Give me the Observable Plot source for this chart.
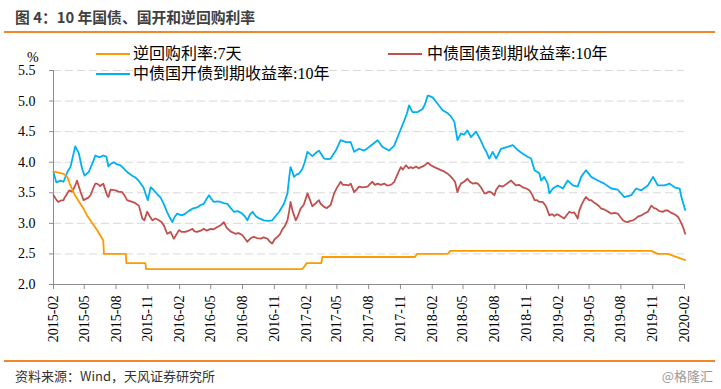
<!DOCTYPE html>
<html><head><meta charset="utf-8">
<script src="https://cdn.jsdelivr.net/npm/d3@7"></script>
<script src="https://cdn.jsdelivr.net/npm/@observablehq/plot@0.6"></script>
<style>
body{margin:0;background:#fff;}
#wrap{position:relative;width:721px;height:389px;overflow:hidden;background:#fff;}
#chart{position:absolute;left:0;top:36px;}
#chart svg text{font-family:"Liberation Serif","Times New Roman",serif;}
.title{position:absolute;left:15px;top:6px;font-family:"Noto Sans CJK SC",sans-serif;font-weight:bold;font-size:14.8px;line-height:22px;color:#404040;white-space:nowrap;}
.hline{position:absolute;left:4px;width:711px;height:2px;background:#F0882B;}
.leg{position:absolute;font-family:"Liberation Serif","Noto Sans CJK SC",serif;font-size:16px;line-height:22px;color:#000;white-space:nowrap;}
.lline{position:absolute;height:2px;width:34px;}
.unit{position:absolute;left:27px;top:49px;font-family:"Liberation Serif",serif;font-size:14px;line-height:18px;color:#000;}
.src{position:absolute;left:15px;top:367px;font-family:"Noto Sans CJK SC",sans-serif;font-size:13px;line-height:18px;color:#333;white-space:nowrap;}
.wm{position:absolute;right:8px;top:367px;font-family:"Noto Sans CJK SC",sans-serif;font-size:13px;line-height:18px;color:#9a9a9a;white-space:nowrap;}
</style>
</head><body>
<div id="wrap">
  <div class="title">图 4：10 年国债、国开和逆回购利率</div>
  <div class="hline" style="top:31px"></div>
  <div id="chart"></div>
  <div class="unit">%</div>
  <div class="lline" style="left:96px;top:53px;background:#FF9900"></div>
  <div class="leg" style="left:133px;top:43px">逆回购利率:7天</div>
  <div class="lline" style="left:388px;top:53px;background:#C0504D"></div>
  <div class="leg" style="left:427px;top:43px">中债国债到期收益率:10年</div>
  <div class="lline" style="left:96px;top:73px;background:#00B0F0"></div>
  <div class="leg" style="left:133px;top:63px">中债国开债到期收益率:10年</div>
  <div class="hline" style="top:360px"></div>
  <div class="src">资料来源：Wind，天风证券研究所</div>
  <div class="wm">@格隆汇</div>
</div>
<script>
// ---- data ----
const xTickLabels = ["2015-02","2015-05","2015-08","2015-11","2016-02","2016-05","2016-08","2016-11","2017-02","2017-05","2017-08","2017-11","2018-02","2018-05","2018-08","2018-11","2019-02","2019-05","2019-08","2019-11","2020-02"];
const yTicks = [2.0, 2.5, 3.0, 3.5, 4.0, 4.5, 5.0, 5.5];

const repoDates = ["2015-02-01","2015-03-02","2015-03-13","2015-03-22","2015-04-04","2015-04-29","2015-05-09","2015-06-07","2015-06-25","2015-06-27","2015-08-29","2015-08-31","2015-10-25","2015-10-27","2017-01-21","2017-02-03","2017-03-17","2017-03-20","2017-12-13","2017-12-19","2018-03-18","2018-03-25","2019-10-28","2019-11-16","2019-12-15","2020-02-03"];
const repoValues = [3.85,3.81,3.76,3.62,3.46,3.24,3.13,2.89,2.72,2.50,2.50,2.35,2.35,2.25,2.25,2.35,2.35,2.45,2.45,2.50,2.50,2.55,2.55,2.50,2.50,2.40];

const cgbDates = ["2015-02-01","2015-02-10","2015-02-15","2015-02-21","2015-03-02","2015-03-05","2015-03-13","2015-03-18","2015-03-27","2015-04-05","2015-04-10","2015-04-20","2015-04-29","2015-05-13","2015-05-19","2015-05-28","2015-06-02","2015-06-07","2015-06-16","2015-06-25","2015-07-06","2015-07-10","2015-07-16","2015-07-31","2015-08-08","2015-08-19","2015-08-26","2015-09-02","2015-09-17","2015-09-26","2015-10-06","2015-10-16","2015-10-22","2015-10-30","2015-11-06","2015-11-14","2015-11-23","2015-12-03","2015-12-11","2015-12-17","2015-12-27",
"2016-01-06","2016-01-15","2016-01-23","2016-01-30","2016-02-07","2016-02-18","2016-02-27","2016-03-09","2016-03-15","2016-03-23","2016-04-02","2016-04-11","2016-04-19","2016-05-01","2016-05-09","2016-05-20","2016-05-30","2016-06-08","2016-06-16","2016-06-23","2016-06-30","2016-07-12","2016-07-21","2016-07-31","2016-08-07","2016-08-15","2016-08-25","2016-09-03","2016-09-11","2016-09-23","2016-10-01","2016-10-12","2016-10-19","2016-10-26","2016-11-02","2016-11-10","2016-11-17","2016-11-25","2016-12-01","2016-12-09","2016-12-14","2016-12-18","2016-12-24",
"2017-01-02","2017-01-08","2017-01-16","2017-01-25","2017-02-05","2017-02-11","2017-02-19","2017-03-01","2017-03-10","2017-03-15","2017-03-25","2017-04-02","2017-04-13","2017-04-23","2017-05-01","2017-05-12","2017-05-18","2017-05-27","2017-06-04","2017-06-10","2017-06-20","2017-06-28","2017-07-04","2017-07-15","2017-07-29","2017-08-04","2017-08-12","2017-08-19","2017-08-27","2017-09-05","2017-09-15","2017-09-23","2017-09-29","2017-10-07","2017-10-14","2017-10-24","2017-11-02","2017-11-08","2017-11-17","2017-11-25","2017-12-01","2017-12-07","2017-12-16","2017-12-24","2017-12-30",
"2018-01-08","2018-01-19","2018-01-28","2018-02-07","2018-02-15","2018-02-26","2018-03-07","2018-03-18","2018-03-24","2018-04-01","2018-04-08","2018-04-15","2018-04-19","2018-04-25","2018-05-04","2018-05-14","2018-05-21","2018-05-29","2018-06-05","2018-06-13","2018-06-22","2018-07-02","2018-07-06","2018-07-15","2018-07-21","2018-07-31","2018-08-05","2018-08-14","2018-08-22","2018-08-29","2018-09-05","2018-09-17","2018-09-26","2018-10-01","2018-10-10","2018-10-21","2018-10-31","2018-11-09","2018-11-17","2018-11-24","2018-12-01","2018-12-08","2018-12-18","2018-12-27",
"2019-01-06","2019-01-14","2019-01-20","2019-01-28","2019-02-04","2019-02-12","2019-02-18","2019-02-26","2019-03-05","2019-03-13","2019-03-19","2019-03-29","2019-04-02","2019-04-08","2019-04-16","2019-04-22","2019-05-01","2019-05-07","2019-05-15","2019-05-21","2019-05-30","2019-06-05","2019-06-13","2019-06-19","2019-06-28","2019-07-04","2019-07-13","2019-07-23","2019-07-31","2019-08-07","2019-08-13","2019-08-21","2019-08-28","2019-09-05","2019-09-11","2019-09-19","2019-09-29","2019-10-08","2019-10-18","2019-10-28","2019-11-05","2019-11-11","2019-11-20","2019-12-01","2019-12-07","2019-12-15","2019-12-22","2019-12-30",
"2020-01-05","2020-01-13","2020-01-23","2020-01-29","2020-02-03"];
const cgbValues = [3.46,3.38,3.35,3.37,3.38,3.42,3.49,3.54,3.52,3.62,3.70,3.52,3.38,3.42,3.46,3.59,3.65,3.65,3.61,3.65,3.46,3.43,3.55,3.54,3.52,3.51,3.45,3.38,3.35,3.33,3.29,3.08,3.05,3.19,3.12,3.05,3.08,3.05,3.02,2.97,2.83,
2.86,2.75,2.82,2.89,2.86,2.86,2.88,2.91,2.87,2.86,2.88,2.91,2.88,2.91,2.90,2.94,2.97,3.02,2.93,2.89,2.86,2.83,2.84,2.81,2.76,2.70,2.76,2.78,2.76,2.75,2.77,2.75,2.70,2.67,2.74,2.78,2.82,2.91,2.95,3.05,3.20,3.35,3.20,
3.05,3.12,3.24,3.30,3.49,3.40,3.28,3.33,3.38,3.32,3.27,3.25,3.30,3.49,3.58,3.68,3.63,3.63,3.62,3.65,3.51,3.56,3.60,3.59,3.60,3.64,3.68,3.63,3.65,3.63,3.65,3.62,3.62,3.64,3.68,3.81,3.92,3.88,3.95,3.90,3.92,3.90,3.93,3.90,3.92,
3.94,3.99,3.95,3.92,3.90,3.87,3.85,3.81,3.78,3.73,3.68,3.51,3.58,3.65,3.68,3.73,3.68,3.65,3.66,3.65,3.59,3.49,3.49,3.52,3.51,3.46,3.55,3.62,3.60,3.62,3.65,3.70,3.65,3.62,3.63,3.59,3.57,3.54,3.47,3.38,3.38,3.35,3.35,3.28,
3.13,3.15,3.12,3.15,3.13,3.10,3.08,3.14,3.19,3.17,3.18,3.08,3.20,3.29,3.38,3.43,3.38,3.38,3.34,3.32,3.28,3.24,3.23,3.21,3.18,3.16,3.17,3.16,3.10,3.05,3.03,3.02,3.04,3.05,3.07,3.11,3.13,3.16,3.19,3.29,3.25,3.24,3.20,3.19,3.21,3.21,3.18,3.16,
3.14,3.11,3.00,2.92,2.83];

const cdbDates = ["2015-02-01","2015-02-09","2015-02-21","2015-03-02","2015-03-13","2015-03-22","2015-03-31","2015-04-05","2015-04-15","2015-04-25","2015-05-02","2015-05-14","2015-05-28","2015-06-02","2015-06-14","2015-06-25","2015-07-04","2015-07-10","2015-07-16","2015-07-25","2015-08-02","2015-08-14","2015-08-23","2015-09-02","2015-09-17","2015-09-26","2015-10-05","2015-10-19","2015-11-01","2015-11-09","2015-11-17","2015-11-28","2015-12-08","2015-12-17","2015-12-27",
"2016-01-03","2016-01-11","2016-01-17","2016-01-25","2016-02-07","2016-02-18","2016-02-27","2016-03-09","2016-03-23","2016-04-02","2016-04-11","2016-04-19","2016-04-26","2016-05-03","2016-05-10","2016-05-21","2016-05-30","2016-06-07","2016-06-18","2016-06-28","2016-07-07","2016-07-18","2016-07-31","2016-08-07","2016-08-15","2016-08-22","2016-08-30","2016-09-08","2016-09-18","2016-10-02","2016-10-16","2016-10-26","2016-11-05","2016-11-15","2016-11-29","2016-12-09","2016-12-14","2016-12-18","2016-12-23","2016-12-28",
"2017-01-05","2017-01-11","2017-01-21","2017-01-28","2017-02-05","2017-02-19","2017-03-01","2017-03-10","2017-03-25","2017-04-05","2017-04-13","2017-04-28","2017-05-12","2017-05-27","2017-06-10","2017-06-20","2017-07-04","2017-07-19","2017-07-29","2017-08-07","2017-08-27","2017-09-10","2017-09-20","2017-09-29","2017-10-14","2017-10-28","2017-11-12","2017-11-20","2017-11-26","2017-12-06","2017-12-21",
"2018-01-04","2018-01-11","2018-01-19","2018-01-25","2018-02-02","2018-02-16","2018-03-03","2018-03-18","2018-03-27","2018-04-06","2018-04-15","2018-04-25","2018-05-04","2018-05-14","2018-05-24","2018-06-08","2018-06-22","2018-07-02","2018-07-06","2018-07-16","2018-07-26","2018-08-05","2018-08-19","2018-09-07","2018-09-22","2018-10-06","2018-10-21","2018-11-04","2018-11-14","2018-11-24","2018-12-08","2018-12-13","2018-12-22",
"2019-01-01","2019-01-06","2019-01-16","2019-01-30","2019-02-14","2019-02-28","2019-03-15","2019-03-29","2019-04-08","2019-04-22","2019-05-07","2019-05-26","2019-06-14","2019-07-04","2019-07-23","2019-08-11","2019-08-31","2019-09-14","2019-09-29","2019-10-18","2019-11-02","2019-11-16","2019-12-05","2019-12-20",
"2020-01-03","2020-01-18","2020-01-23","2020-02-03"];
const cdbValues = [3.84,3.67,3.70,3.68,3.84,3.92,4.14,4.26,4.15,3.89,3.78,3.84,4.03,4.11,4.08,4.11,4.09,3.93,3.97,4.00,3.97,3.95,3.90,3.84,3.78,3.75,3.70,3.59,3.38,3.59,3.55,3.48,3.42,3.32,3.18,
3.10,3.02,3.10,3.16,3.13,3.16,3.20,3.24,3.26,3.30,3.32,3.40,3.46,3.40,3.35,3.36,3.35,3.33,3.32,3.25,3.19,3.20,3.16,3.12,3.05,3.14,3.19,3.12,3.08,3.05,3.04,3.05,3.12,3.19,3.32,3.49,3.75,3.92,3.85,3.76,
3.80,3.81,3.89,4.00,4.17,4.10,4.15,4.19,4.06,4.05,4.06,4.19,4.36,4.33,4.33,4.17,4.22,4.19,4.23,4.27,4.36,4.25,4.22,4.19,4.27,4.47,4.68,4.80,4.93,4.82,4.82,
4.87,4.95,5.09,5.08,5.06,4.96,4.85,4.80,4.75,4.66,4.36,4.47,4.45,4.52,4.41,4.50,4.35,4.22,4.19,4.06,4.17,4.06,4.22,4.25,4.28,4.20,4.14,4.09,4.06,3.87,3.82,3.70,3.76,
3.65,3.49,3.57,3.62,3.57,3.70,3.62,3.60,3.76,3.87,3.76,3.70,3.65,3.57,3.55,3.43,3.46,3.57,3.54,3.62,3.76,3.62,3.62,3.65,
3.59,3.57,3.43,3.22];

// ---- build ----
const parseDay = d3.utcParse("%Y-%m-%d");
const parseMonth = d3.utcParse("%Y-%m");
const toRows = (ds, vs) => ds.map((d, i) => ({date: parseDay(d), value: vs[i]}));
const repo = toRows(repoDates, repoValues);
const cgb = toRows(cgbDates, cgbValues);
const cdb = toRows(cdbDates, cdbValues);
const xTicks = xTickLabels.map(parseMonth);
const serif = "'Liberation Serif', 'Times New Roman', serif";

const chart = Plot.plot({
  width: 721,
  height: 320,
  marginLeft: 53,
  marginRight: 37,
  marginTop: 34,
  marginBottom: 72,
  style: {fontFamily: serif, fontSize: "14px", color: "#000", background: "transparent", overflow: "visible"},
  x: {type: "utc", domain: [xTicks[0], xTicks[xTicks.length - 1]]},
  y: {domain: [2, 5.5]},
  marks: [
    Plot.ruleY(yTicks.filter(v => v > 2), {stroke: "#d9d9d9", strokeWidth: 1, strokeDasharray: "8,4"}),
    Plot.axisY(yTicks, {tickSize: 4, tickPadding: 14, tickFormat: d3.format(".1f"), label: null, stroke: "#8c8c8c", fill: "#000", fontSize: 14, fontFamily: serif}),
    Plot.axisX(xTicks, {tickSize: 5, tickPadding: 6, tickRotate: -90, tickFormat: d3.utcFormat("%Y-%m"), label: null, stroke: "#8c8c8c", fill: "#000", fontSize: 14, fontFamily: serif}),
    Plot.ruleX([xTicks[0]], {stroke: "#8c8c8c", strokeWidth: 1}),
    Plot.ruleY([2], {stroke: "#8c8c8c", strokeWidth: 1}),
    Plot.line(cgb, {x: "date", y: "value", stroke: "#C0504D", strokeWidth: 1.8}),
    Plot.line(cdb, {x: "date", y: "value", stroke: "#00B0F0", strokeWidth: 1.8}),
    Plot.line(repo, {x: "date", y: "value", stroke: "#FF9900", strokeWidth: 1.8})
  ]
});
document.getElementById("chart").appendChild(chart);
</script>
</body></html>
